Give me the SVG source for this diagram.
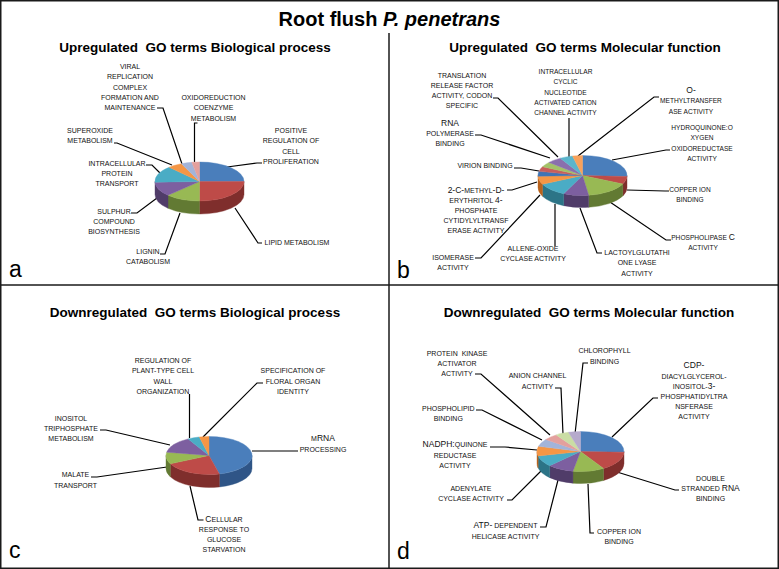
<svg xmlns="http://www.w3.org/2000/svg" width="779" height="569" viewBox="0 0 779 569">
<style>
.frame{fill:none;stroke:#1a1a1a;stroke-width:1.5}
.title{font-family:"Liberation Sans",Arial,sans-serif;font-weight:bold;font-size:20px;text-anchor:middle;fill:#000}
.pt{font-family:"Liberation Sans",Arial,sans-serif;font-weight:bold;font-size:13.5px;text-anchor:middle;fill:#000;white-space:pre}
.lt{font-family:"Liberation Sans",Arial,sans-serif;font-size:23px;fill:#000}
.t{font-family:"Liberation Sans",Arial,sans-serif;font-size:7px;text-anchor:middle;fill:#111}
.t6{font-size:6.6px}
.B{font-size:8.5px}
.cn polyline{fill:none;stroke:#000;stroke-width:1.2}
.pie path{stroke-width:0.4}
.c1{fill:#4A7EBB;stroke:#4A7EBB}.c2{fill:#BE4B48;stroke:#BE4B48}.c3{fill:#98B954;stroke:#98B954}
.c4{fill:#7D5FA0;stroke:#7D5FA0}.c5{fill:#4AACC5;stroke:#4AACC5}.c6{fill:#F59645;stroke:#F59645}
.s1{fill:#2F5587;stroke:#2F5587}.s2{fill:#7F2E2C;stroke:#7F2E2C}.s3{fill:#627A33;stroke:#627A33}
.s4{fill:#503C69;stroke:#503C69}.s5{fill:#2C7487;stroke:#2C7487}.s6{fill:#B8621C;stroke:#B8621C}
.c7{fill:#A2B4D9;stroke:#A2B4D9}.c8{fill:#E3A09D;stroke:#E3A09D}.c9{fill:#CADDA4;stroke:#CADDA4}.c10{fill:#B6AACC;stroke:#B6AACC}
.d1{fill:#3F74B5;stroke:#3F74B5}.d2{fill:#C85E5B;stroke:#C85E5B}.d3{fill:#A3C268;stroke:#A3C268}
.d4{fill:#8A6FAD;stroke:#8A6FAD}.d5{fill:#5BB5CC;stroke:#5BB5CC}.d6{fill:#F7A15B;stroke:#F7A15B}
</style>

<g id="frame">
<rect class="frame" x="0.75" y="0.75" width="777.5" height="567.5"/>
<line class="frame" x1="389" y1="33" x2="389" y2="568"/>
<line class="frame" x1="0" y1="285" x2="779" y2="285"/>
</g>

<text id="title" class="title" x="389.5" y="25.5">Root flush <tspan font-style="italic">P. penetrans</tspan></text>

<g id="panel-titles">
<text class="pt" x="195" y="51.5">Upregulated  GO terms Biological process</text>
<text class="pt" x="585" y="51.5">Upregulated  GO terms Molecular function</text>
<text class="pt" x="195" y="316.5">Downregulated  GO terms Biological process</text>
<text class="pt" x="589" y="316.5">Downregulated  GO terms Molecular function</text>
</g>

<g id="panel-letters">
<text class="lt" x="9" y="277">a</text>
<text class="lt" x="397" y="278">b</text>
<text class="lt" x="9" y="558">c</text>
<text class="lt" x="397" y="559">d</text>
</g>

<g id="connectors" class="cn">
<polyline points="157,108 163,108 182,164"/>
<polyline points="197.5,123 194.5,123 194.5,162"/>
<polyline points="114,143 117,143 172,165"/>
<polyline points="146,165 152,165 160,173"/>
<polyline points="131,213 137,213 157,198"/>
<polyline points="160,254 165,254 180,213"/>
<polyline points="235,208 258,243 262,243"/>
<polyline points="227,167 257,163 262,163"/>

<polyline points="493,98 498,98 558,157"/>
<polyline points="569,118 569,157"/>
<polyline points="659,97 654,97 578,156"/>
<polyline points="612,160 666,150 670,150"/>
<polyline points="627,190 665,191 669,191"/>
<polyline points="607,200 666,240 671,240"/>
<polyline points="602,253 597,253 580,208"/>
<polyline points="555,204 555,246"/>
<polyline points="475,258 481,258 540,195"/>
<polyline points="507,190 512,190 537,182"/>
<polyline points="514,168 521,168 539,171"/>
<polyline points="475,135 481,135 550,158"/>

<polyline points="189.5,394 189.5,438"/>
<polyline points="263,383 257,383 203,437"/>
<polyline points="100,430 106,430 170,445"/>
<polyline points="91,477 97,477 167,467"/>
<polyline points="190,486 198,520 203.5,520"/>
<polyline points="252,451 298,451"/>

<polyline points="475,374 481,374 550,435"/>
<polyline points="555,388 561,388 563,434"/>
<polyline points="588,363 583,363 575,434"/>
<polyline points="658,398 653,398 612,437"/>
<polyline points="476,410 482,410 542,440"/>
<polyline points="490,447 505,447 537,450"/>
<polyline points="507,500 512,500 542,470"/>
<polyline points="540,527 546,527 558,480"/>
<polyline points="588,484 590,533 594,533"/>
<polyline points="617,472 675,490 679,490"/>
</g>

<g id="pie-a" class="pie">
<path class="s2" d="M244,181.5 A44.5,19.5 0 0 1 199.5,201 L199.5,214 A44.5,19.5 0 0 0 244,194.5 Z"/>
<path class="s3" d="M199.5,201 A44.5,19.5 0 0 1 168.03,195.29 L168.03,208.29 A44.5,19.5 0 0 0 199.5,214 Z"/>
<path class="s4" d="M168.03,195.29 A44.5,19.5 0 0 1 155,181.5 L155,194.5 A44.5,19.5 0 0 0 168.03,208.29 Z"/>
<path class="c1" d="M199.5,181.5 L199.5,162 A44.5,19.5 0 0 1 244,181.5 Z"/>
<path class="c2" d="M199.5,181.5 L244,181.5 A44.5,19.5 0 0 1 199.5,201 Z"/>
<path class="c3" d="M199.5,181.5 L199.5,201 A44.5,19.5 0 0 1 168.03,195.29 Z"/>
<path class="c4" d="M199.5,181.5 L168.03,195.29 A44.5,19.5 0 0 1 155.03,182.18 Z"/>
<path class="c5" d="M199.5,181.5 L155.03,182.18 A44.5,19.5 0 0 1 169.15,167.24 Z"/>
<path class="c6" d="M199.5,181.5 L169.15,167.24 A44.5,19.5 0 0 1 181.40,163.69 Z"/>
<path class="c7" d="M199.5,181.5 L181.40,163.69 A44.5,19.5 0 0 1 191.77,162.30 Z"/>
<path class="c8" d="M199.5,181.5 L191.77,162.30 A44.5,19.5 0 0 1 199.5,162 Z"/>
</g>

<g id="pie-b" class="pie">
<path class="s2" d="M627,175.5 A44.5,20 0 0 1 622.83,183.95 L622.83,195.95 A44.5,20 0 0 0 627,187.5 Z"/>
<path class="s3" d="M622.83,183.95 A44.5,20 0 0 1 588.69,195.31 L588.69,207.31 A44.5,20 0 0 0 622.83,195.95 Z"/>
<path class="s4" d="M588.69,195.31 A44.5,20 0 0 1 563.69,193.63 L563.69,205.63 A44.5,20 0 0 0 588.69,207.31 Z"/>
<path class="s5" d="M563.69,193.63 A44.5,20 0 0 1 542.50,184.27 L542.50,196.27 A44.5,20 0 0 0 563.69,205.63 Z"/>
<path class="s6" d="M542.50,184.27 A44.5,20 0 0 1 538,175.5 L538,187.5 A44.5,20 0 0 0 542.50,196.27 Z"/>
<path class="c1" d="M582.5,175.5 L582.5,155.5 A44.5,20 0 0 1 626.94,176.55 Z"/>
<path class="c2" d="M582.5,175.5 L626.94,176.55 A44.5,20 0 0 1 622.83,183.95 Z"/>
<path class="c3" d="M582.5,175.5 L622.83,183.95 A44.5,20 0 0 1 588.69,195.31 Z"/>
<path class="c4" d="M582.5,175.5 L588.69,195.31 A44.5,20 0 0 1 563.69,193.63 Z"/>
<path class="c5" d="M582.5,175.5 L563.69,193.63 A44.5,20 0 0 1 542.50,184.27 Z"/>
<path class="c6" d="M582.5,175.5 L542.50,184.27 A44.5,20 0 0 1 538.03,176.20 Z"/>
<path class="d1" d="M582.5,175.5 L538.03,176.20 A44.5,20 0 0 1 538.97,171.34 Z"/>
<path class="d2" d="M582.5,175.5 L538.97,171.34 A44.5,20 0 0 1 542.50,166.73 Z"/>
<path class="d3" d="M582.5,175.5 L542.50,166.73 A44.5,20 0 0 1 548.92,162.38 Z"/>
<path class="d4" d="M582.5,175.5 L548.92,162.38 A44.5,20 0 0 1 560.25,158.18 Z"/>
<path class="d5" d="M582.5,175.5 L560.25,158.18 A44.5,20 0 0 1 572.49,156.01 Z"/>
<path class="d6" d="M582.5,175.5 L572.49,156.01 A44.5,20 0 0 1 582.5,155.5 Z"/>
</g>

<g id="pie-c" class="pie">
<path class="s1" d="M252,455.5 A43,19 0 0 1 219.40,473.94 L219.40,486.94 A43,19 0 0 0 252,468.5 Z"/>
<path class="s2" d="M219.40,473.94 A43,19 0 0 1 170.35,463.83 L170.35,476.83 A43,19 0 0 0 219.40,486.94 Z"/>
<path class="s3" d="M170.35,463.83 A43,19 0 0 1 166,455.5 L166,468.5 A43,19 0 0 0 170.35,476.83 Z"/>
<path class="c1" d="M209,455.5 L209,436.5 A43,19 0 0 1 219.40,473.94 Z"/>
<path class="c2" d="M209,455.5 L219.40,473.94 A43,19 0 0 1 170.35,463.83 Z"/>
<path class="c3" d="M209,455.5 L170.35,463.83 A43,19 0 0 1 166.65,452.20 Z"/>
<path class="c4" d="M209,455.5 L166.65,452.20 A43,19 0 0 1 188.15,438.88 Z"/>
<path class="c5" d="M209,455.5 L188.15,438.88 A43,19 0 0 1 199.33,436.99 Z"/>
<path class="c6" d="M209,455.5 L199.33,436.99 A43,19 0 0 1 209,436.5 Z"/>
</g>

<g id="pie-d" class="pie">
<path class="s2" d="M624,451.5 A43.5,20 0 0 1 603.55,468.46 L603.55,480.46 A43.5,20 0 0 0 624,463.5 Z"/>
<path class="s3" d="M603.55,468.46 A43.5,20 0 0 1 572.95,471.20 L572.95,483.20 A43.5,20 0 0 0 603.55,480.46 Z"/>
<path class="s4" d="M572.95,471.20 A43.5,20 0 0 1 549.74,465.64 L549.74,477.64 A43.5,20 0 0 0 572.95,483.20 Z"/>
<path class="s5" d="M549.74,465.64 A43.5,20 0 0 1 538.12,456.00 L538.12,468.00 A43.5,20 0 0 0 549.74,477.64 Z"/>
<path class="s6" d="M538.12,456.00 A43.5,20 0 0 1 537,451.5 L537,463.5 A43.5,20 0 0 0 538.12,468.00 Z"/>
<path class="c1" d="M580.5,451.5 L580.5,431.5 A43.5,20 0 0 1 623.97,452.20 Z"/>
<path class="c2" d="M580.5,451.5 L623.97,452.20 A43.5,20 0 0 1 603.55,468.46 Z"/>
<path class="c3" d="M580.5,451.5 L603.55,468.46 A43.5,20 0 0 1 572.95,471.20 Z"/>
<path class="c4" d="M580.5,451.5 L572.95,471.20 A43.5,20 0 0 1 549.74,465.64 Z"/>
<path class="c5" d="M580.5,451.5 L549.74,465.64 A43.5,20 0 0 1 538.12,456.00 Z"/>
<path class="c6" d="M580.5,451.5 L538.12,456.00 A43.5,20 0 0 1 538.48,446.32 Z"/>
<path class="c7" d="M580.5,451.5 L538.48,446.32 A43.5,20 0 0 1 545.76,439.46 Z"/>
<path class="c8" d="M580.5,451.5 L545.76,439.46 A43.5,20 0 0 1 556.18,434.92 Z"/>
<path class="c9" d="M580.5,451.5 L556.18,434.92 A43.5,20 0 0 1 568.51,432.27 Z"/>
<path class="c10" d="M580.5,451.5 L568.51,432.27 A43.5,20 0 0 1 580.5,431.5 Z"/>
</g>

<g id="a-viral"><text class="t"><tspan x="130" y="69">VIRAL</tspan><tspan x="130" y="79.3">REPLICATION</tspan><tspan x="130" y="89.6">COMPLEX</tspan><tspan x="130" y="99.9">FORMATION AND</tspan><tspan x="130" y="110.2">MAINTENANCE</tspan></text></g>
<g id="a-oxido"><text class="t"><tspan x="213.5" y="100">OXIDOREDUCTION</tspan><tspan x="213.5" y="110.3">COENZYME</tspan><tspan x="213.5" y="120.6">METABOLISM</tspan></text></g>
<g id="a-superoxide"><text class="t"><tspan x="90" y="133">SUPEROXIDE</tspan><tspan x="90" y="143.3">METABOLISM</tspan></text></g>
<g id="a-intracellular"><text class="t"><tspan x="117" y="165.7">INTRACELLULAR</tspan><tspan x="117" y="176">PROTEIN</tspan><tspan x="117" y="186.3">TRANSPORT</tspan></text></g>
<g id="a-sulphur"><text class="t"><tspan x="114" y="213.5">SULPHUR</tspan><tspan x="114" y="223.8">COMPOUND</tspan><tspan x="114" y="234.1">BIOSYNTHESIS</tspan></text></g>
<g id="a-lignin"><text class="t"><tspan x="148" y="254">LIGNIN</tspan><tspan x="148" y="264.3">CATABOLISM</tspan></text></g>
<g id="a-lipid"><text class="t"><tspan x="297" y="244.5">LIPID METABOLISM</tspan></text></g>
<g id="a-positive"><text class="t"><tspan x="291" y="133">POSITIVE</tspan><tspan x="291" y="143.3">REGULATION OF</tspan><tspan x="291" y="153.6">CELL</tspan><tspan x="291" y="163.9">PROLIFERATION</tspan></text></g>

<g id="b-translation"><text class="t"><tspan x="462" y="77.5">TRANSLATION</tspan><tspan x="462" y="87.8">RELEASE FACTOR</tspan><tspan x="462" y="98.1">ACTIVITY, CODON</tspan><tspan x="462" y="108.4">SPECIFIC</tspan></text></g>
<g id="b-intracellular"><text class="t t6"><tspan x="565.5" y="74">INTRACELLULAR</tspan><tspan x="565.5" y="84.3">CYCLIC</tspan><tspan x="565.5" y="94.6">NUCLEOTIDE</tspan><tspan x="565.5" y="104.9">ACTIVATED CATION</tspan><tspan x="565.5" y="115.2">CHANNEL ACTIVITY</tspan></text></g>
<g id="b-omethyl"><text class="t t6"><tspan x="691" y="93" class="B">O-</tspan><tspan x="691" y="103.3">METHYLTRANSFER</tspan><tspan x="691" y="113.6">ASE ACTIVITY</tspan></text></g>
<g id="b-hydroquinone"><text class="t t6"><tspan x="702" y="130">HYDROQUINONE:O</tspan><tspan x="702" y="140.3">XYGEN</tspan><tspan x="702" y="150.6">OXIDOREDUCTASE</tspan><tspan x="702" y="160.9">ACTIVITY</tspan></text></g>
<g id="b-copper"><text class="t t6"><tspan x="690" y="191.7">COPPER ION</tspan><tspan x="690" y="202">BINDING</tspan></text></g>
<g id="b-phospholipase"><text class="t t6"><tspan x="703" y="240">PHOSPHOLIPASE <tspan class="B">C</tspan></tspan><tspan x="703" y="250.3">ACTIVITY</tspan></text></g>
<g id="b-lactoyl"><text class="t"><tspan x="637" y="255">LACTOYLGLUTATHI</tspan><tspan x="637" y="265.3">ONE LYASE</tspan><tspan x="637" y="275.6">ACTIVITY</tspan></text></g>
<g id="b-allene"><text class="t"><tspan x="533" y="250.7">ALLENE-OXIDE</tspan><tspan x="533" y="261">CYCLASE ACTIVITY</tspan></text></g>
<g id="b-isomerase"><text class="t"><tspan x="453" y="260">ISOMERASE</tspan><tspan x="453" y="270.3">ACTIVITY</tspan></text></g>
<g id="b-methylerythritol"><text class="t"><tspan x="476" y="192.5"><tspan class="B">2-C-</tspan>METHYL<tspan class="B">-D-</tspan></tspan><tspan x="476" y="202.5">ERYTHRITOL <tspan class="B">4-</tspan></tspan><tspan x="476" y="212.5">PHOSPHATE</tspan><tspan x="476" y="222.5">CYTIDYLYLTRANSF</tspan><tspan x="476" y="232.5">ERASE ACTIVITY</tspan></text></g>
<g id="b-virion"><text class="t"><tspan x="485" y="168.3">VIRION BINDING</tspan></text></g>
<g id="b-rnapol"><text class="t"><tspan x="450" y="125.5" class="B">RNA</tspan><tspan x="450" y="136">POLYMERASE</tspan><tspan x="450" y="146.3">BINDING</tspan></text></g>

<g id="c-regulation"><text class="t"><tspan x="163" y="363">REGULATION OF</tspan><tspan x="163" y="373.3">PLANT-TYPE CELL</tspan><tspan x="163" y="383.6">WALL</tspan><tspan x="163" y="393.9">ORGANIZATION</tspan></text></g>
<g id="c-specification"><text class="t"><tspan x="293" y="373.3">SPECIFICATION OF</tspan><tspan x="293" y="383.6">FLORAL ORGAN</tspan><tspan x="293" y="393.9">IDENTITY</tspan></text></g>
<g id="c-inositol"><text class="t"><tspan x="71" y="420.5">INOSITOL</tspan><tspan x="71" y="430.8">TRIPHOSPHATE</tspan><tspan x="71" y="441.1">METABOLISM</tspan></text></g>
<g id="c-malate"><text class="t"><tspan x="75.5" y="477.3">MALATE</tspan><tspan x="75.5" y="487.6">TRANSPORT</tspan></text></g>
<g id="c-cellular"><text class="t"><tspan x="224" y="521.5"><tspan class="B">C</tspan>ELLULAR</tspan><tspan x="224" y="531.8">RESPONSE TO</tspan><tspan x="224" y="542.1">GLUCOSE</tspan><tspan x="224" y="552.4">STARVATION</tspan></text></g>
<g id="c-mrna"><text class="t"><tspan x="323" y="441">M<tspan class="B">RNA</tspan></tspan><tspan x="323" y="451.5">PROCESSING</tspan></text></g>

<g id="d-kinase"><text class="t" style="white-space:pre"><tspan x="457" y="355.7">PROTEIN  KINASE</tspan><tspan x="457" y="366">ACTIVATOR</tspan><tspan x="457" y="376.3">ACTIVITY</tspan></text></g>
<g id="d-anion"><text class="t"><tspan x="537.5" y="378.3">ANION CHANNEL</tspan><tspan x="537.5" y="388.6">ACTIVITY</tspan></text></g>
<g id="d-chlorophyll"><text class="t"><tspan x="604.5" y="353.3">CHLOROPHYLL</tspan><tspan x="604.5" y="363.6">BINDING</tspan></text></g>
<g id="d-cdp"><text class="t"><tspan x="694" y="368.3" class="B">CDP-</tspan><tspan x="694" y="378.5">DIACYLGLYCEROL-</tspan><tspan x="694" y="388.7">INOSITOL-<tspan class="B">3-</tspan></tspan><tspan x="694" y="398.9">PHOSPHATIDYLTRA</tspan><tspan x="694" y="409.1">NSFERASE</tspan><tspan x="694" y="419.3">ACTIVITY</tspan></text></g>
<g id="d-phospholipid"><text class="t"><tspan x="448.3" y="411">PHOSPHOLIPID</tspan><tspan x="448.3" y="421.3">BINDING</tspan></text></g>
<g id="d-nadph"><text class="t"><tspan x="455" y="447.3"><tspan class="B">NADPH:</tspan>QUINONE</tspan><tspan x="455" y="457.6">REDUCTASE</tspan><tspan x="455" y="467.9">ACTIVITY</tspan></text></g>
<g id="d-adenylate"><text class="t"><tspan x="471" y="490.7">ADENYLATE</tspan><tspan x="471" y="501">CYCLASE ACTIVITY</tspan></text></g>
<g id="d-atp"><text class="t"><tspan x="505.5" y="528.3"><tspan class="B">ATP-</tspan> DEPENDENT</tspan><tspan x="505.5" y="538.6">HELICASE ACTIVITY</tspan></text></g>
<g id="d-copper"><text class="t"><tspan x="619" y="534">COPPER ION</tspan><tspan x="619" y="544.3">BINDING</tspan></text></g>
<g id="d-double"><text class="t"><tspan x="710.5" y="480.7">DOUBLE</tspan><tspan x="710.5" y="491">STRANDED <tspan class="B">RNA</tspan></tspan><tspan x="710.5" y="501.3">BINDING</tspan></text></g>
</svg>
